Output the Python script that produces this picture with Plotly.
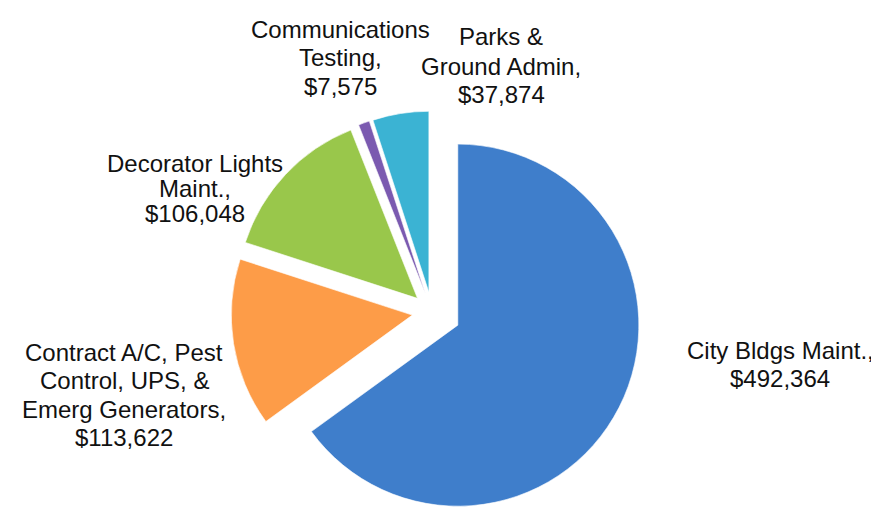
import plotly.graph_objects as go

labels = ["City Bldgs Maint.",
          "Contract A/C, Pest<br>Control, UPS, &<br>Emerg Generators",
          "Decorator Lights<br>Maint.",
          "Communications<br>Testing",
          "Parks &<br>Ground Admin"]
values = [492364, 113622, 106048, 7575, 37874]
colors = ["#3f7ecb", "#fd9c48", "#99c74b", "#7b5ab0", "#3bb3d3"]
pulls = [0.16, 0.11, 0.11, 0.11, 0.11]

W, H = 879, 519
PCX, PCY, BOX = 424, 304, 420

fig = go.Figure()
fig.add_trace(go.Pie(
    labels=[l.replace("<br>", " ") for l in labels],
    values=values,
    sort=False,
    direction="clockwise",
    rotation=0,
    pull=pulls,
    marker=dict(colors=colors, line=dict(color="rgba(255,255,255,0.6)", width=1)),
    textinfo="none",
    hoverinfo="label+value",
    showlegend=False,
    domain=dict(x=[(PCX - BOX / 2) / W, (PCX + BOX / 2) / W],
                y=[(H - PCY - BOX / 2) / H, (H - PCY + BOX / 2) / H]),
))

# label anchor centers (pixels) and line spacing
label_pos = [(772, 356, 28), (116, 387, 28.5), (187, 180, 25), (332, 50, 28), (493, 58, 29)]

for lab, val, (cx, cy, sp) in zip(labels, values, label_pos):
    lines = lab.split("<br>")
    lines[-1] = lines[-1] + ","
    lines.append(f"${val:,}")
    n = len(lines)
    for i, line in enumerate(lines):
        ypx = cy + (i - (n - 1) / 2) * sp
        fig.add_annotation(
            x=cx / W, y=1 - ypx / H, xref="paper", yref="paper",
            text=line, showarrow=False, xanchor="center", yanchor="middle",
            font=dict(family="Liberation Sans, Arial", size=24, color="#111111"),
        )

fig.update_layout(
    width=W, height=H,
    margin=dict(l=0, r=0, t=0, b=0),
    paper_bgcolor="white",
    plot_bgcolor="white",
)

fig.write_html("out.html")
